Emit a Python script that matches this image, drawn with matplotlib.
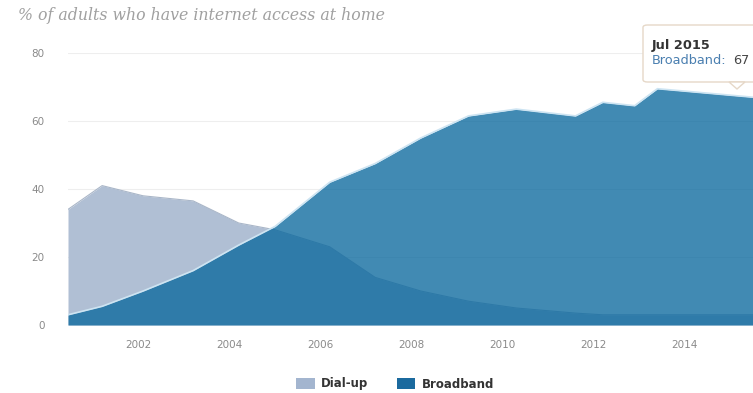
import matplotlib
matplotlib.use("Agg")
import matplotlib.pyplot as plt
from matplotlib.patches import Patch, FancyBboxPatch, Polygon

# data (decimal year, % of adults)
years = [2000.45, 2001.2, 2002.1, 2003.2, 2004.2, 2005.0, 2006.2, 2007.2,
         2008.2, 2009.25, 2010.3, 2011.6, 2012.2, 2012.9, 2013.4, 2015.5]
dialup = [34, 41, 38, 36.5, 30, 28, 23, 14, 10, 7, 5, 3.5, 3, 3, 3, 3]
broadband = [3, 5.5, 10, 16, 23.5, 29, 42, 47.5, 55, 61.5, 63.5, 61.5,
             65.5, 64.5, 69.5, 67]

x_ticks = [2002, 2004, 2006, 2008, 2010, 2012, 2014]
y_ticks = [0, 20, 40, 60, 80]

DIAL_COLOR = "#b0bfd4"
BB_COLOR = "#08679d"

W, H = 753, 393
fig = plt.figure(figsize=(W / 100, H / 100), dpi=100)
ax = fig.add_axes([68 / W, 1 - 325 / H, 1 - 68 / W, (325 - 53) / H])

# =====================
# areas
# =====================
ax.fill_between(years, dialup, 0, color=DIAL_COLOR, lw=0, zorder=2)
ax.plot(years, dialup, color="#a9b6c8", lw=0.8, zorder=2)
ax.fill_between(years, broadband, 0, color=BB_COLOR, alpha=0.77, lw=0, zorder=3)
ax.plot(years, broadband, color="#cde4f2", lw=1.2, zorder=4)

ax.set_xlim(years[0], years[-1])
ax.set_ylim(0, 80)
ax.set_xticks(x_ticks)
ax.set_xticklabels([str(y) for y in x_ticks])
ax.set_yticks(y_ticks)
ax.tick_params(length=0, labelsize=7.5, labelcolor="#8a8a8a")
ax.tick_params(axis="y", pad=17)
ax.tick_params(axis="x", pad=11)
ax.grid(axis="y", color="#eeeeee", lw=0.8, zorder=0)
for s in ax.spines.values():
    s.set_visible(False)

# =====================
# title
# =====================
fig.text(18 / W, 1 - 15 / H, "% of adults who have internet access at home",
         family="DejaVu Serif", style="italic", fontsize=11.3, color="#a0a0a0",
         va="center", ha="left")

# =====================
# tooltip (cut off on the right)
# =====================
box = FancyBboxPatch((643 / W, 1 - 82 / H), 130 / W, 57 / H,
                     boxstyle="round,pad=0,rounding_size=0.006",
                     transform=fig.transFigure, facecolor="white",
                     edgecolor="#e6d8c8", lw=1, zorder=10)
fig.patches.append(box)
arrow = Polygon([(729 / W, 1 - 82 / H), (745 / W, 1 - 82 / H), (737 / W, 1 - 89 / H)],
                closed=True, transform=fig.transFigure, facecolor="white",
                edgecolor="#e6d8c8", lw=1, zorder=10)
fig.patches.append(arrow)
fig.text(652 / W, 1 - 45 / H, "Jul 2015", fontsize=9.3, fontweight="bold",
         color="#333333", va="center", zorder=11)
fig.text(652 / W, 1 - 61 / H, "Broadband:", fontsize=9.3,
         color="#4a7fb0", va="center", zorder=11)
fig.text(733 / W, 1 - 61 / H, "67", fontsize=9.3, color="#444444",
         va="center", zorder=11)

# =====================
# legend
# =====================
handles = [Patch(facecolor="#a3b5cf", label="Dial-up"),
           Patch(facecolor="#1b6a9e", label="Broadband")]
leg = fig.legend(handles=handles, loc="center", ncol=2,
                 bbox_to_anchor=(395 / W, 1 - 384 / H), frameon=False,
                 handlelength=1.6, handleheight=1.1, columnspacing=2.4,
                 handletextpad=0.5, prop={"size": 8.5, "weight": "bold"})
for txt in leg.get_texts():
    txt.set_color("#333333")

fig.savefig("out.png", dpi=100)
